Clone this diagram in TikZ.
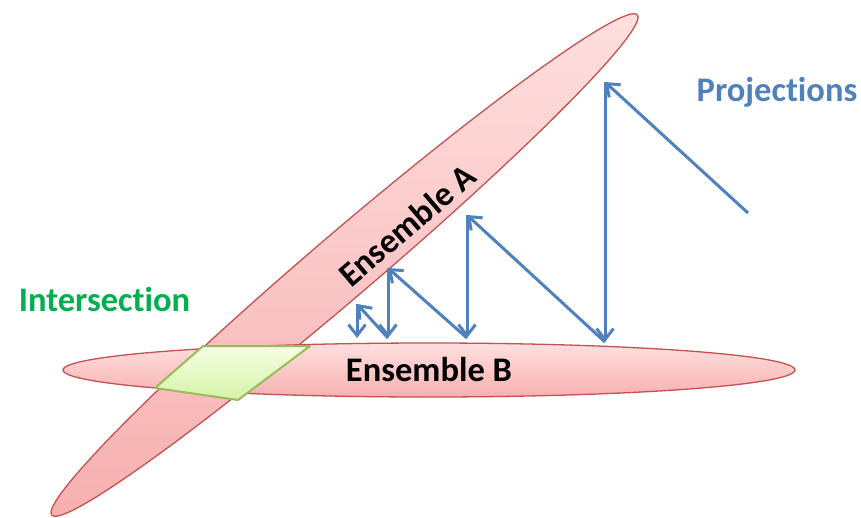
\documentclass[tikz,border=0pt]{standalone}
\usepackage{fontspec}
\setmainfont{Carlito}[RawFeature={-liga;-clig;-calt;-dlig}]
\usetikzlibrary{arrows.meta,shapes.geometric}

\definecolor{ensline}{RGB}{195,82,80}
\definecolor{enstop}{RGB}{255,224,224}
\definecolor{ensbot}{RGB}{247,176,176}
\definecolor{interline}{RGB}{155,187,89}
\definecolor{intertop}{RGB}{246,255,228}
\definecolor{interbot}{RGB}{214,242,168}
\definecolor{projblue}{RGB}{79,129,189}
\definecolor{intergreen}{RGB}{0,176,80}

\begin{document}
\begin{tikzpicture}[
    x=1pt, y=-1pt,
    ensemble/.style={ellipse, draw=ensline, line width=1.3pt, inner sep=0pt,
                     top color=enstop, bottom color=ensbot},
    interbox/.style={draw=interline, line width=2pt, line join=round,
                     top color=intertop, bottom color=interbot},
    proj/.style={-{Straight Barb[length=11pt, width=17pt]}, draw=projblue,
                 line width=3pt},
    bigtext/.style={font=\fontsize{34.5}{40}\selectfont\bfseries, inner sep=0pt},
]
    \useasboundingbox (0,0) rectangle (861,517);

    \node[ensemble, minimum width=770pt, minimum height=64pt, rotate=40.5]
        (ensA) at (344.5,265) {};
    \node[ensemble, minimum width=732pt, minimum height=54pt]
        (ensB) at (429,370) {};
    \draw[interbox] (203,346) -- (310,346) -- (238,400) -- (155,388) -- cycle;

    \node[bigtext, rotate=40.5] (labA) at (407,225) {Ensemble A};
    \node[bigtext, anchor=base] (labB) at (429,381) {Ensemble B};
    \node[bigtext, anchor=base, text=projblue] (labProj) at (777,101)
        {Projec\kern0pt t\kern0pt ions};
    \node[bigtext, anchor=base, text=intergreen] (labInter) at (104.5,311)
        {Intersec\kern0pt t\kern0pt ion};

    \coordinate (s0) at (748,213);
    \coordinate (a1) at (605,82);
    \coordinate (b1) at (605,342);
    \coordinate (a2) at (467,215);
    \coordinate (b2) at (467,338);
    \coordinate (a3) at (388,268);
    \coordinate (b3) at (388,338);
    \coordinate (a4) at (357,304);
    \coordinate (b4) at (357,338);

    \draw[proj] (s0) -- (a1);
    \draw[proj] (a1) -- (b1);
    \draw[proj] (b1) -- (a2);
    \draw[proj] (a2) -- (b2);
    \draw[proj] (b2) -- (a3);
    \draw[proj] (a3) -- (b3);
    \draw[proj] (b3) -- (a4);
    \draw[proj] (a4) -- (b4);
\end{tikzpicture}
\end{document}
